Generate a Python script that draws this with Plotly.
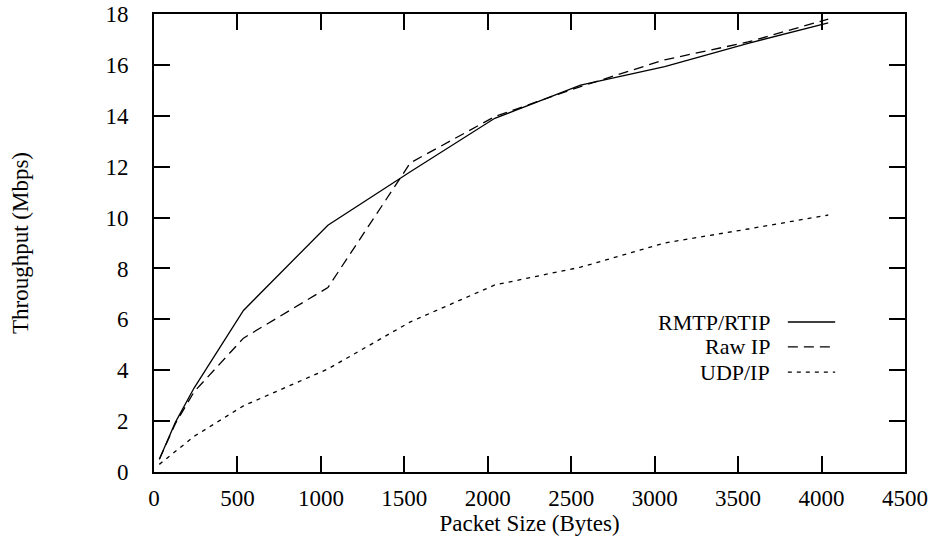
import plotly.graph_objects as go

# ---- data ----
packet_size = [32, 128, 240, 536, 1042, 1536, 2042, 2556, 3060, 3560, 4040]
rmtp_rtip = [0.5, 1.95, 3.3, 6.35, 9.7, 11.8, 13.9, 15.2, 15.93, 16.85, 17.65]
raw_ip = [0.5, 1.9, 3.15, 5.26, 7.25, 12.15, 13.97, 15.15, 16.2, 16.9, 17.8]
udp_ip = [0.3, 0.8, 1.4, 2.6, 4.05, 5.9, 7.35, 8.05, 9.0, 9.55, 10.1]

series_names = ["RMTP/RTIP", "Raw IP", "UDP/IP"]
series_values = [rmtp_rtip, raw_ip, udp_ip]
series_dash = ["solid", "10px,6px", "4px,5px"]

x_ticks = [0, 500, 1000, 1500, 2000, 2500, 3000, 3500, 4000, 4500]
y_ticks = [0, 2, 4, 6, 8, 10, 12, 14, 16, 18]

FONT = "Liberation Serif"
FS = 23
LEG_FS = 22

fig = go.Figure()
for name, vals, dash in zip(series_names, series_values, series_dash):
    fig.add_trace(go.Scatter(x=packet_size, y=vals, mode="lines", name=name,
                             line=dict(color="black", width=1.3, dash=dash),
                             showlegend=False, hoverinfo="skip"))

# legend drawn gnuplot-style: text right-aligned, sample line to the right
leg_rows = [0.3275, 0.273, 0.218]
for name, dash, yy in zip(series_names, series_dash, leg_rows):
    fig.add_annotation(xref="paper", yref="paper", x=0.823, y=yy, text=name,
                       showarrow=False, xanchor="right", yanchor="middle",
                       font=dict(family=FONT, size=LEG_FS, color="black"))
    fig.add_shape(type="line", xref="paper", yref="paper", x0=0.844, x1=0.907,
                  y0=yy, y1=yy, line=dict(color="black", width=1.3, dash=dash))

axis_common = dict(showline=True, linewidth=2, linecolor="black", mirror="ticks",
                   ticks="inside", ticklen=16, tickwidth=2, tickcolor="black",
                   showgrid=False, zeroline=False, automargin=False,
                   ticklabeloverflow="allow",
                   tickfont=dict(family=FONT, size=FS, color="black"))

fig.update_xaxes(range=[0, 4500], tickvals=x_ticks, ticktext=[str(v) for v in x_ticks],
                 title=dict(text="Packet Size (Bytes)", standoff=4,
                            font=dict(family=FONT, size=FS, color="black")),
                 ticklabelstandoff=4, **axis_common)
fig.update_yaxes(range=[0, 18], tickvals=y_ticks, ticktext=[str(v) for v in y_ticks],
                 title=dict(text="Throughput (Mbps)", standoff=70,
                            font=dict(family=FONT, size=FS, color="black")),
                 ticklabelstandoff=19, **axis_common)

fig.update_layout(width=933, height=539,
                  margin=dict(l=154, r=28, t=14, b=67, autoexpand=False),
                  paper_bgcolor="white", plot_bgcolor="white",
                  hovermode=False,
                  font=dict(family=FONT, size=FS, color="black"))

# remove the default 8px page margin so the figure fills the window exactly
fig.write_html("out.html", config={"displayModeBar": False, "staticPlot": True},
               post_script="document.body.style.margin='0';document.body.style.overflow='hidden';")
